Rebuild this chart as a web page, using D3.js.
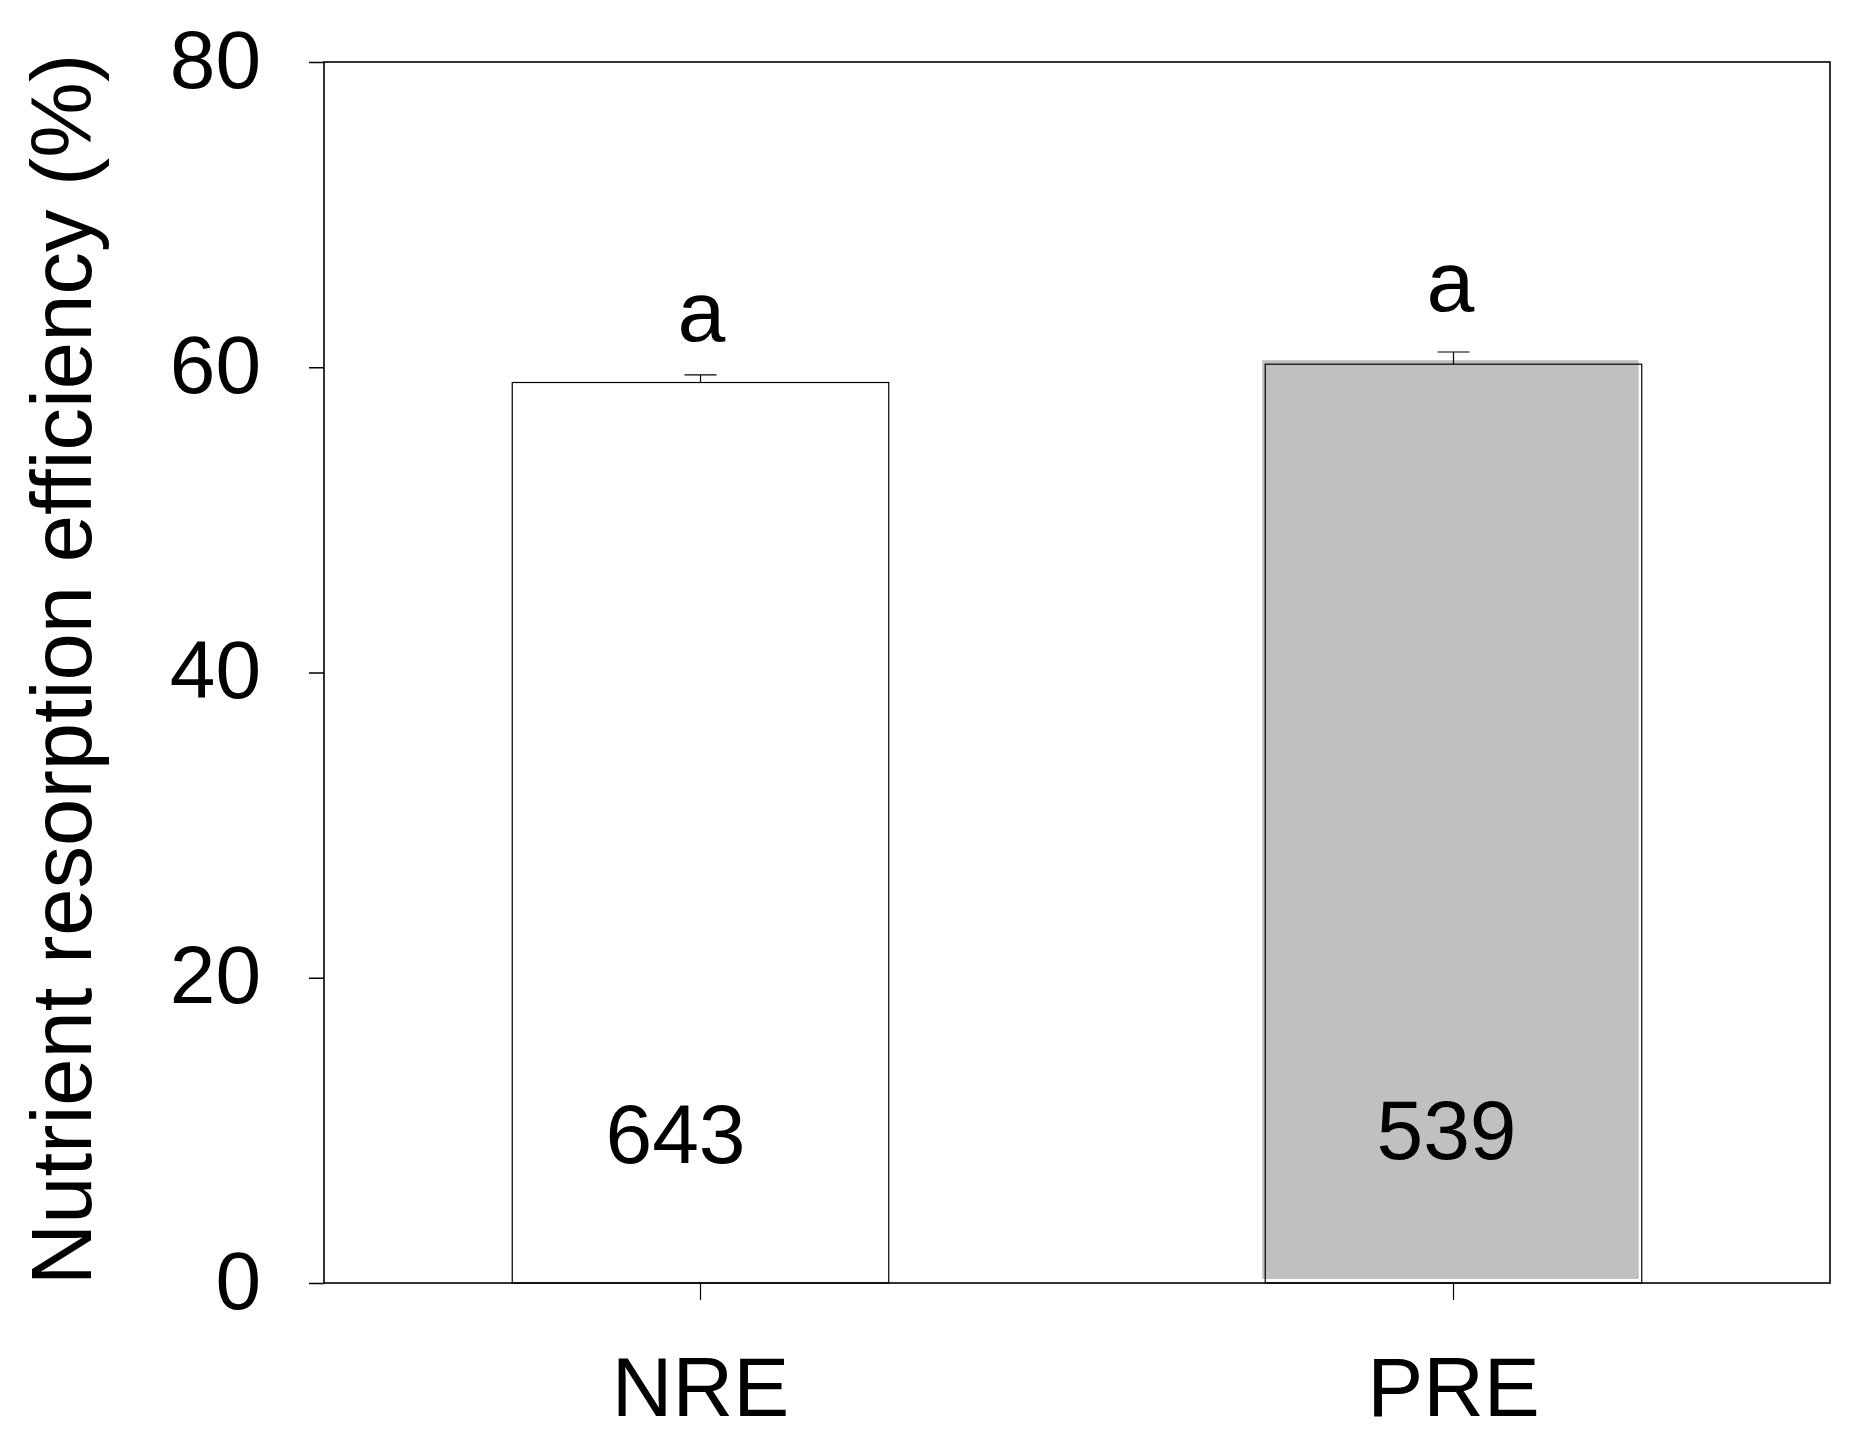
<!DOCTYPE html>
<html>
<head>
<meta charset="utf-8">
<script src="https://cdn.jsdelivr.net/npm/d3@7"></script>
<style>
  html, body { margin: 0; padding: 0; background: #fff; }
  svg { display: block; }
  text { font-family: "Liberation Sans", Arial, sans-serif; fill: #000; }
</style>
</head>
<body>
<svg id="chart" width="1866" height="1441"></svg>
<script>
// ---- data ----
const categories = ["NRE", "PRE"];
const means = [59.0, 60.2];
const errors = [0.5, 0.8];
const sampleSizes = ["643", "539"];
const letters = ["a", "a"];
const barFills = ["#ffffff", "#c0c0c0"];
const yTicks = [0, 20, 40, 60, 80];
const yTitle = "Nutrient resorption efficiency (%)";

(function () {
// ---- layout ----
const svg = d3.select("#chart");
const pLeft = 324, pRight = 1830, pTop = 62, pBottom = 1283;

const x = d3.scaleBand().domain(categories).range([pLeft, pRight])
  .paddingInner(0.5).paddingOuter(0.25);
const y = d3.scaleLinear().domain([0, 80]).range([pBottom, pTop]);

const data = categories.map((c, i) => ({
  cat: c, mean: means[i], err: errors[i], n: sampleSizes[i],
  letter: letters[i], fill: barFills[i], i
}));

// bars
const g = svg.append("g");
data.forEach(d => {
  const x0 = x(d.cat), w = x.bandwidth(), y0 = y(d.mean), h = pBottom - y(d.mean);
  if (d.i === 1) {
    // SigmaPlot-like fill slightly offset from outline
    g.append("rect").attr("x", x0 - 3).attr("y", y0 - 4)
      .attr("width", w).attr("height", h)
      .attr("fill", d.fill);
    g.append("rect").attr("x", x0).attr("y", y0)
      .attr("width", w).attr("height", h)
      .attr("fill", "none").attr("stroke", "#000").attr("stroke-width", 1.2);
  } else {
    g.append("rect").attr("x", x0).attr("y", y0)
      .attr("width", w).attr("height", h)
      .attr("fill", d.fill).attr("stroke", "#000").attr("stroke-width", 1.2);
  }
  // error bar (upper only)
  const cx = x0 + w / 2;
  const yt = y(d.mean + d.err);
  g.append("line").attr("x1", cx).attr("x2", cx).attr("y1", y0).attr("y2", yt)
    .attr("stroke", "#000").attr("stroke-width", 1.2);
  g.append("line").attr("x1", cx - 16).attr("x2", cx + 16).attr("y1", yt).attr("y2", yt)
    .attr("stroke", "#000").attr("stroke-width", 1.2);
});

// significance letters
const letterDx = [1, -3];
const letterGap = [34, 41];
data.forEach(d => {
  svg.append("text")
    .attr("x", x(d.cat) + x.bandwidth() / 2 + letterDx[d.i])
    .attr("y", y(d.mean + d.err) - letterGap[d.i])
    .attr("text-anchor", "middle")
    .attr("font-size", 86)
    .text(d.letter);
});

// sample sizes
const nDx = [-25, -7];
const nDy = [2, -2];
data.forEach(d => {
  svg.append("text")
    .attr("x", x(d.cat) + x.bandwidth() / 2 + nDx[d.i])
    .attr("y", y(8) + nDy[d.i])
    .attr("text-anchor", "middle")
    .attr("font-size", 84)
    .text(d.n);
});

// frame
svg.append("rect").attr("x", pLeft).attr("y", pTop)
  .attr("width", pRight - pLeft).attr("height", pBottom - pTop)
  .attr("fill", "none").attr("stroke", "#000").attr("stroke-width", 1.6);

// y axis
const yAxis = svg.append("g").attr("transform", `translate(${pLeft},0)`)
  .call(d3.axisLeft(y).tickValues(yTicks).tickSize(15).tickPadding(48).tickFormat(d3.format("d")));
yAxis.select(".domain").remove();
yAxis.selectAll(".tick line").attr("stroke", "#000").attr("stroke-width", 1.5);
yAxis.selectAll(".tick text")
  .attr("font-size", 82).attr("dy", null).attr("y", 25)
  .attr("font-family", "Liberation Sans, Arial, sans-serif").attr("fill", "#000");

// x axis
const xAxis = svg.append("g").attr("transform", `translate(0,${pBottom})`)
  .call(d3.axisBottom(x).tickSize(17).tickPadding(0));
xAxis.select(".domain").remove();
xAxis.selectAll(".tick line").attr("stroke", "#000").attr("stroke-width", 1.2);
xAxis.selectAll(".tick text")
  .attr("font-size", 84).attr("dy", null).attr("y", 133)
  .attr("font-family", "Liberation Sans, Arial, sans-serif").attr("fill", "#000");

// y title
svg.append("text")
  .attr("transform", `translate(91,${(1282 + 57) / 2}) rotate(-90)`)
  .attr("text-anchor", "middle")
  .attr("font-size", 85)
  .text(yTitle);
})();
</script>
</body>
</html>
